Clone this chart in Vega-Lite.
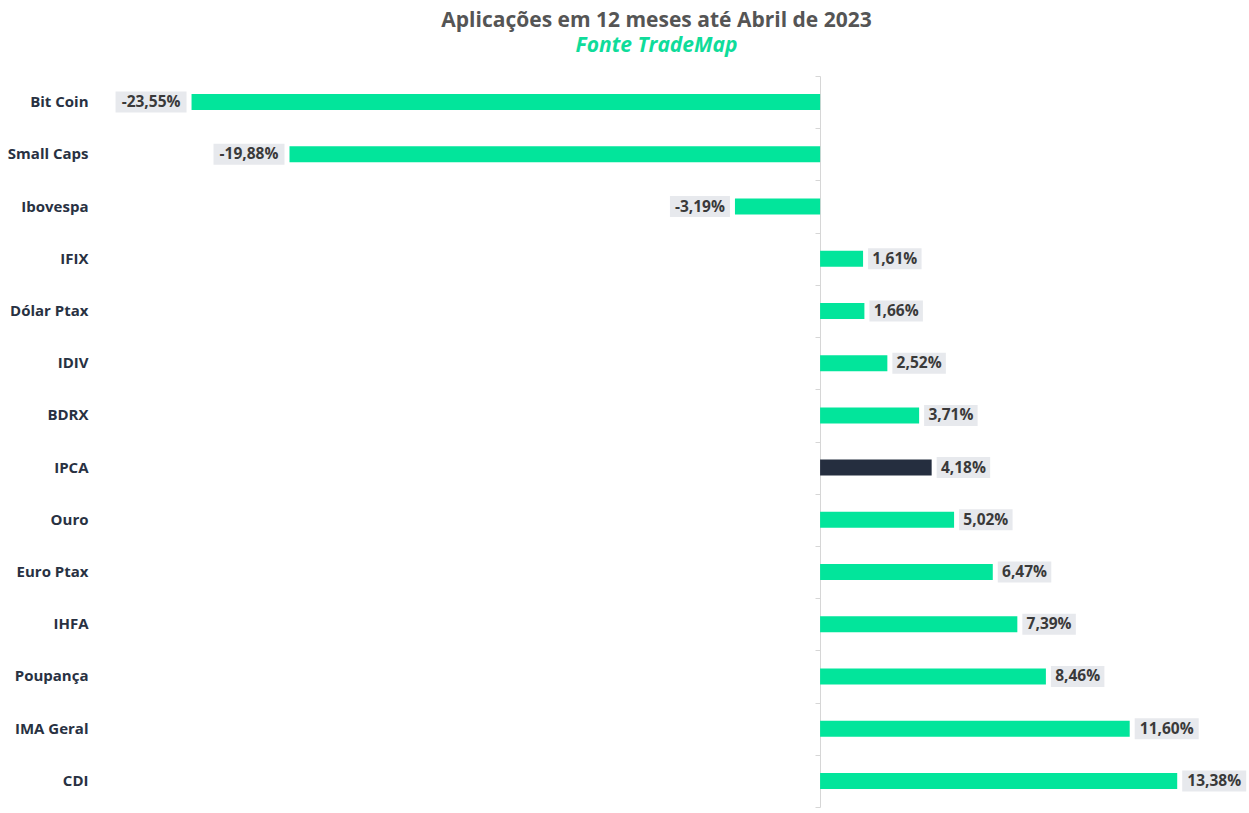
{
  "$schema": "https://vega.github.io/schema/vega-lite/v6.json",
  "description": "Aplicações em 12 meses até Abril de 2023",
  "autosize": {"type": "none"},
  "padding": {"left": 100, "top": 76, "right": 4, "bottom": 6},
  "width": 1145,
  "height": 731,
  "background": "#ffffff",
  "data": {
    "values": [
      {"categoria": "Bit Coin", "valor": -23.55, "rotulo": "-23,55%"},
      {"categoria": "Small Caps", "valor": -19.88, "rotulo": "-19,88%"},
      {"categoria": "Ibovespa", "valor": -3.19, "rotulo": "-3,19%"},
      {"categoria": "IFIX", "valor": 1.61, "rotulo": "1,61%"},
      {"categoria": "Dólar Ptax", "valor": 1.66, "rotulo": "1,66%"},
      {"categoria": "IDIV", "valor": 2.52, "rotulo": "2,52%"},
      {"categoria": "BDRX", "valor": 3.71, "rotulo": "3,71%"},
      {"categoria": "IPCA", "valor": 4.18, "rotulo": "4,18%"},
      {"categoria": "Ouro", "valor": 5.02, "rotulo": "5,02%"},
      {"categoria": "Euro Ptax", "valor": 6.47, "rotulo": "6,47%"},
      {"categoria": "IHFA", "valor": 7.39, "rotulo": "7,39%"},
      {"categoria": "Poupança", "valor": 8.46, "rotulo": "8,46%"},
      {"categoria": "IMA Geral", "valor": 11.6, "rotulo": "11,60%"},
      {"categoria": "CDI", "valor": 13.38, "rotulo": "13,38%"}
    ]
  },
  "title": {
    "text": "Aplicações em 12 meses até Abril de 2023",
    "subtitle": "Fonte TradeMap",
    "anchor": "middle",
    "dx": -16,
    "offset": 20,
    "font": "Open Sans",
    "fontSize": 21,
    "fontWeight": 700,
    "color": "#555555",
    "subtitleFont": "Open Sans",
    "subtitleFontSize": 21,
    "subtitleFontWeight": 700,
    "subtitleFontStyle": "italic",
    "subtitleColor": "#0fdc9a",
    "subtitlePadding": 4,
    "subtitleLineHeight": 22
  },
  "config": {
    "view": {"stroke": null},
    "font": "Open Sans"
  },
  "encoding": {
    "y": {
      "field": "categoria",
      "type": "nominal",
      "sort": null,
      "scale": {"paddingInner": 0, "paddingOuter": 0},
      "axis": null
    },
    "x": {
      "field": "valor",
      "type": "quantitative",
      "scale": {"domain": [-26.98, 15.92], "nice": false, "zero": false},
      "axis": null
    }
  },
  "layer": [
    {
      "mark": {"type": "bar", "size": 16},
      "encoding": {
        "y": {
          "field": "categoria",
          "type": "nominal",
          "sort": null,
          "axis": {
            "orient": "left",
            "title": null,
            "domain": false,
            "ticks": false,
            "grid": false,
            "labelPadding": 12,
            "labelFontSize": 15,
            "labelFontWeight": 700,
            "labelColor": "#283142",
            "labelFont": "Open Sans"
          }
        },
        "color": {
          "condition": {"test": "datum.categoria === 'IPCA'", "value": "#252e3f"},
          "value": "#02e59b"
        }
      }
    },
    {
      "mark": {
        "type": "bar",
        "size": 21,
        "color": "#e7e9ed",
        "xOffset": {"expr": "datum.valor < 0 ? -5 : 5"},
        "x2Offset": {"expr": "datum.valor < 0 ? -(5 + 11 * length(datum.rotulo) - 6) : (5 + 10.5 * length(datum.rotulo) + 1)"}
      },
      "encoding": {
        "x2": {"field": "valor"}
      }
    },
    {
      "mark": {
        "type": "text",
        "align": "center",
        "baseline": "middle",
        "fontSize": 15.5,
        "fontWeight": 700,
        "color": "#3a3a3a",
        "font": "Open Sans",
        "dx": {"expr": "datum.valor < 0 ? -(5 + (11 * length(datum.rotulo) - 6) / 2) : (5 + (10.5 * length(datum.rotulo) + 1) / 2)"}
      },
      "encoding": {
        "text": {"field": "rotulo"},
        "y": {
          "field": "categoria",
          "type": "nominal",
          "sort": null,
          "axis": {
            "orient": "right",
            "offset": -425,
            "title": null,
            "labels": false,
            "grid": false,
            "domain": true,
            "domainColor": "#d6d6d6",
            "ticks": true,
            "tickBand": "extent",
            "tickSize": -5,
            "tickColor": "#d6d6d6"
          }
        }
      }
    }
  ],
  "resolve": {"axis": {"y": "independent"}}
}
